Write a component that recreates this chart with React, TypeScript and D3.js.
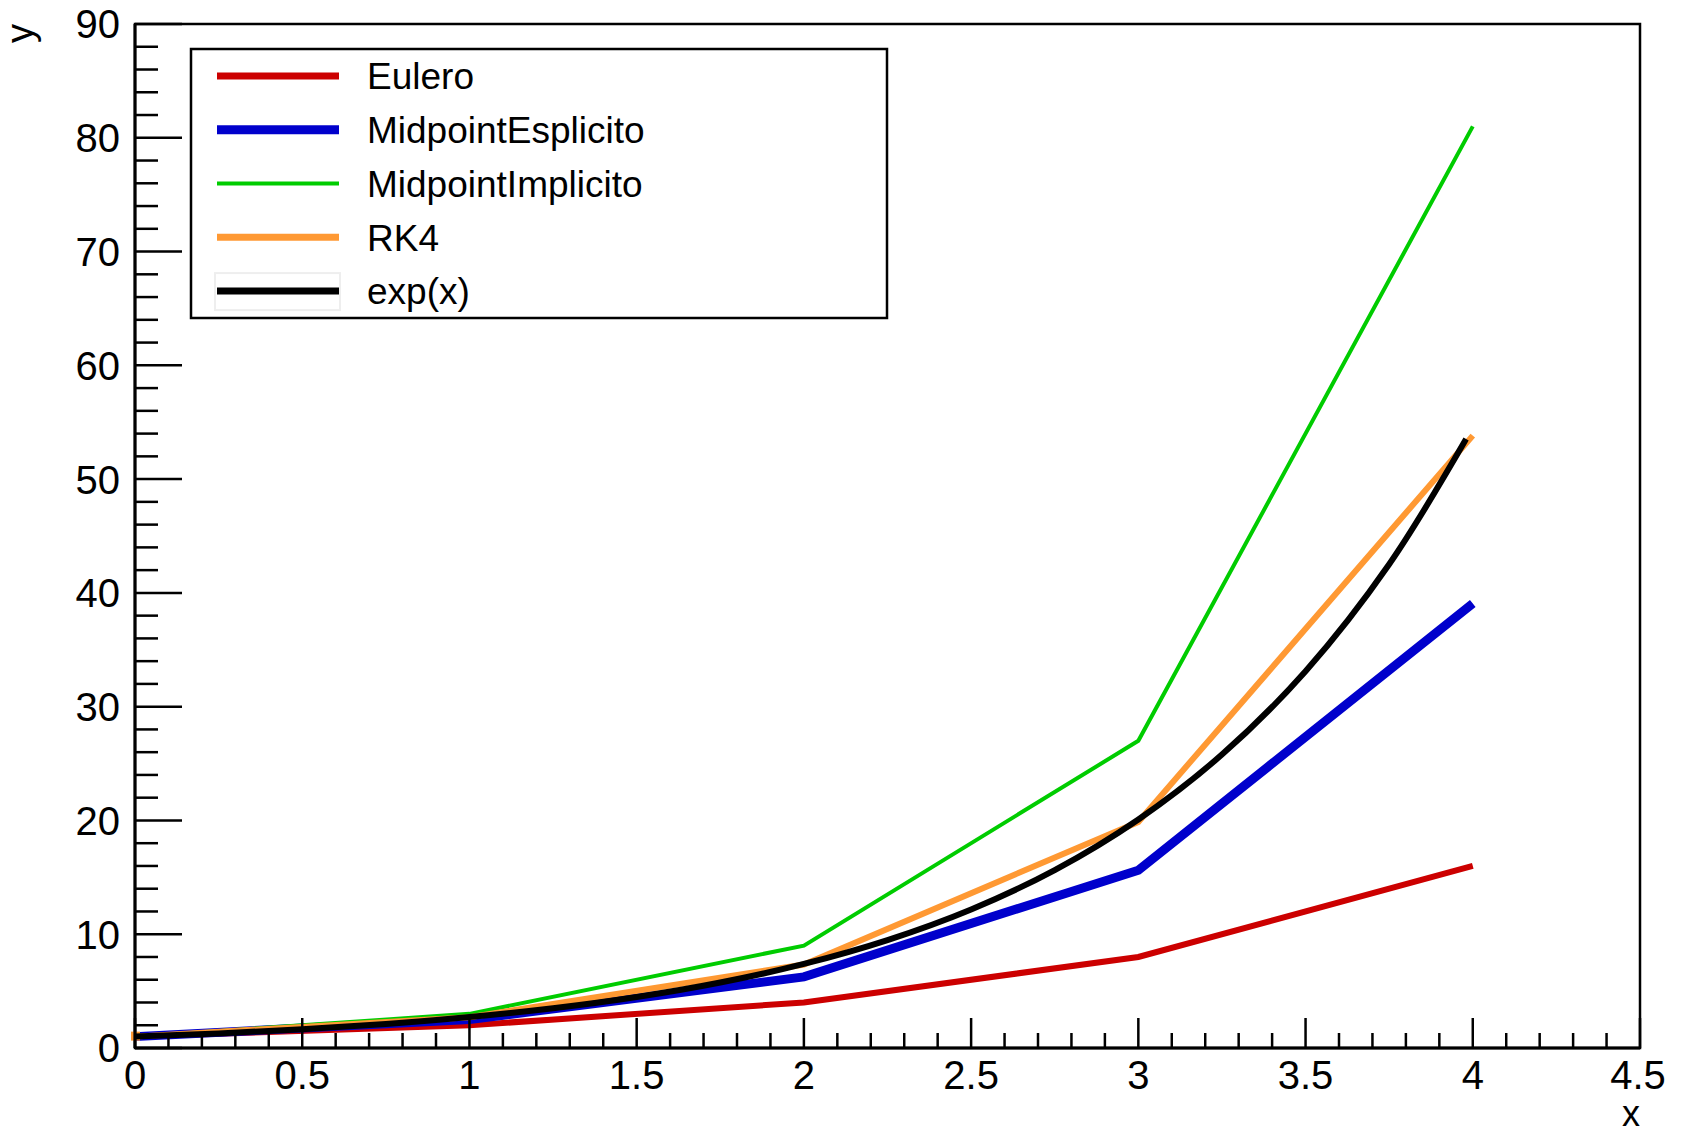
import React from "react";
import * as d3 from "d3";

const xValues = [0, 1, 2, 3, 4];
const euleroValues = [1, 2, 4, 8, 16];
const midEspValues = [1, 2.5, 6.25, 15.63, 39.06];
const midImpValues = [1, 3, 9, 27, 81];
const rk4Values = [1, 2.708, 7.335, 19.87, 53.82];
const expX = [0, 0.25, 0.5, 0.75, 1, 1.25, 1.5, 1.75, 2, 2.25, 2.5, 2.75, 3, 3.25, 3.5, 3.75, 3.98];
const expY = [1, 1.284, 1.649, 2.117, 2.718, 3.49, 4.482, 5.755, 7.389, 9.488, 12.18, 15.64, 20.09, 25.79, 33.12, 42.52, 53.52];

const xTickLabels = ["0", "0.5", "1", "1.5", "2", "2.5", "3", "3.5", "4", "4.5"];
const yTickLabels = ["0", "10", "20", "30", "40", "50", "60", "70", "80", "90"];

const seriesNames = ["Eulero", "MidpointEsplicito", "MidpointImplicito", "RK4", "exp(x)"];
const seriesColors = ["#cc0000", "#0000cc", "#00cc00", "#ff9933", "#000000"];
const seriesWidths = [6, 9, 4, 6, 6];

const W = 1686, H = 1135;
const L = 135, R = 1640, T = 24, B = 1048;
const FONT = "'Liberation Sans', Arial, Helvetica, sans-serif";

export default function App() {
  const x = d3.scaleLinear().domain([0, 4.5]).range([L, R]);
  const y = d3.scaleLinear().domain([0, 90]).range([B, T]);

  const line = d3.line<[number, number]>().x(d => x(d[0])).y(d => y(d[1]));
  const curve = d3.line<[number, number]>().x(d => x(d[0])).y(d => y(d[1])).curve(d3.curveCatmullRom);

  const graphs = [euleroValues, midEspValues, midImpValues, rk4Values].map(vals =>
    xValues.map((xv, i) => [xv, vals[i]] as [number, number])
  );
  const expPts = expX.map((xv, i) => [xv, expY[i]] as [number, number]);

  const xMinor = d3.range(0, 45 + 1).map(i => i / 10);
  const yMinor = d3.range(0, 45 + 1).map(i => i * 2);

  const legX = 191, legY = 49, legW = 696, legH = 269;
  const rowH = legH / 5;

  return (
    <svg width={W} height={H} style={{ position: "absolute", left: 0, top: 0, background: "#fff" }}>
      <rect x={0} y={0} width={W} height={H} fill="#fff" />
      {/* frame */}
      <rect x={L} y={T} width={R - L} height={B - T} fill="none" stroke="#000" strokeWidth={2.5} />
      {/* series */}
      {graphs.map((g, i) => (
        <path key={i} d={line(g) || ""} fill="none" stroke={seriesColors[i]} strokeWidth={seriesWidths[i]} strokeLinejoin="miter" />
      ))}
      <rect x={x(0) - 4} y={y(1) - 5} width={9} height={9} fill={seriesColors[3]} />
      <path d={curve(expPts) || ""} fill="none" stroke={seriesColors[4]} strokeWidth={seriesWidths[4]} />

      {/* y axis */}
      <line x1={L} y1={T} x2={L} y2={B} stroke="#000" strokeWidth={3} />
      {yMinor.map((v, i) => (
        <line key={"ym" + i} x1={L} x2={L + (v % 10 === 0 ? 47 : 23)} y1={y(v)} y2={y(v)} stroke="#000" strokeWidth={2.5} />
      ))}
      {yTickLabels.map((t, i) => (
        <text key={"yl" + i} x={L - 15} y={y(+t)} dy="0.36em" textAnchor="end" fontFamily={FONT} fontSize={40}>{t}</text>
      ))}
      {/* x axis */}
      <line x1={L} y1={B} x2={R} y2={B} stroke="#000" strokeWidth={3} />
      {xMinor.map((v, i) => (
        <line key={"xm" + i} y1={B} y2={B - (i % 5 === 0 ? 30 : 15)} x1={x(v)} x2={x(v)} stroke="#000" strokeWidth={2.5} />
      ))}
      {xTickLabels.map((t, i) => (
        <text key={"xl" + i} x={Math.min(x(+t), 1638)} y={1089} textAnchor="middle" fontFamily={FONT} fontSize={40}>{t}</text>
      ))}
      {/* axis titles */}
      <text x={R} y={1126} textAnchor="end" fontFamily={FONT} fontSize={36}>x</text>
      <text transform={`translate(33,${T}) rotate(-90)`} textAnchor="end" fontFamily={FONT} fontSize={38}>y</text>

      {/* legend */}
      <rect x={legX} y={legY} width={legW} height={legH} fill="#fff" stroke="#000" strokeWidth={2.5} />
      {seriesNames.map((n, i) => {
        const cy = legY + rowH * (i + 0.5);
        return (
          <g key={"lg" + i}>
            {i === 4 && <rect x={215} y={cy - 18} width={125} height={37} fill="none" stroke="#eeeeee" strokeWidth={2} />}
            <line x1={217} x2={339} y1={cy} y2={cy} stroke={seriesColors[i]} strokeWidth={i === 1 ? 9 : i === 2 ? 4 : 7} />
            <text x={367} y={cy} dy="0.36em" fontFamily={FONT} fontSize={37}>{n}</text>
          </g>
        );
      })}
    </svg>
  );
}
